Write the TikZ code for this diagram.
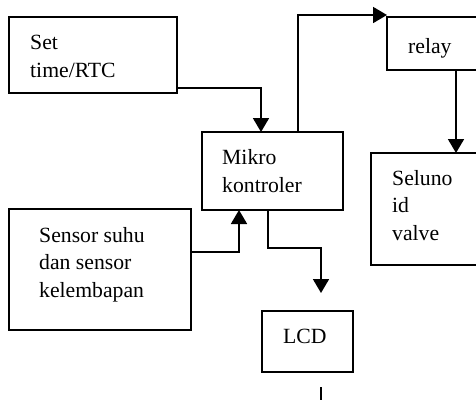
\documentclass[tikz,border=0pt]{standalone}
\usepackage{fontspec}
\setmainfont{Liberation Serif}
\usetikzlibrary{arrows.meta}
\begin{document}
\begin{tikzpicture}[x=1pt,y=-1pt,
  box/.style={draw,line width=1.8pt,inner sep=0pt,outer sep=0pt,anchor=north west},
  txt/.style={anchor=base west,inner sep=0pt,align=left,font=\fontsize{21.7}{27.5}\selectfont},
  arr/.style={line width=1.8pt,-{Triangle[width=16pt,length=14pt]}},
  ln/.style={line width=1.8pt}]
\clip (0,0) rectangle (476,399);
\fill[white] (0,0) rectangle (476,399);
% boxes
\node[box,minimum width=168pt,minimum height=76pt] (set) at (9,17) {};
\node[box,minimum width=141pt,minimum height=78pt] (mik) at (202,132) {};
\node[box,minimum width=110pt,minimum height=53pt] (relay) at (387,17) {};
\node[box,minimum width=125pt,minimum height=112pt] (sel) at (371,153) {};
\node[box,minimum width=182pt,minimum height=121pt] (sensor) at (9,209) {};
\node[box,minimum width=91pt,minimum height=61pt] (lcd) at (262,311) {};
% texts (base = baseline of last line)
\node[txt] (tset) at (30,77) {Set\\time/RTC};
\node[txt] (tmik) at (222,192) {Mikro\\kontroler};
\node[txt] (trelay) at (408,53) {relay};
\node[txt] (tsel) at (392,240) {Seluno\\id\\valve};
\node[txt] (tsensor) at (39,297) {Sensor suhu\\dan sensor\\kelembapan};
\node[txt] (tlcd) at (283,343) {LCD};
% connectors
\draw[arr] ([yshift=5pt]set.south east) -| ([xshift=-11.5pt]mik.north);
\draw[arr] ([xshift=25.5pt]mik.north) |- ([yshift=2pt]relay.north west);
\draw[arr] ([xshift=69pt]relay.south west) -- ([xshift=85pt]sel.north west);
\draw[arr] ([yshift=-43pt]sensor.north east) -| ([xshift=37pt]mik.south west);
\draw[arr] ([xshift=66pt]mik.south west) -- ++(0pt,-38pt) -| ([xshift=59pt,yshift=18pt]lcd.north west);
\coordinate (stray) at ([xshift=59pt,yshift=-15pt]lcd.south west);
\draw[ln] (stray) -- ++(0pt,-20pt);
\end{tikzpicture}
\end{document}
